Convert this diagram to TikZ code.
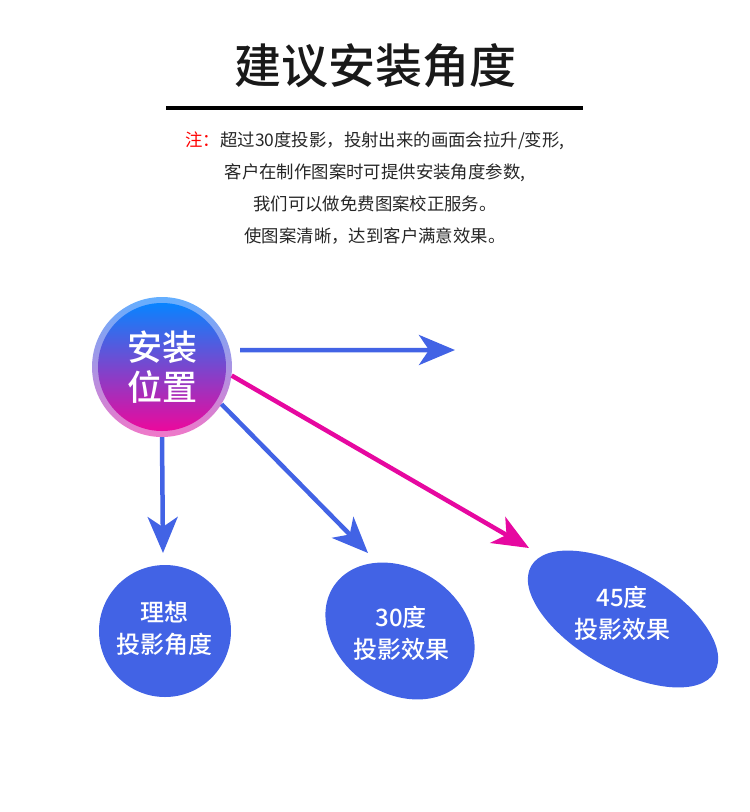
\documentclass[tikz,border=0pt]{standalone}
\usepackage{fontspec}
\usepackage{tikz}
\usetikzlibrary{arrows.meta,shapes.geometric}
\newfontfamily\cjk{Noto Sans CJK SC}
\newfontfamily\cjkmed{Noto Sans CJK SC Medium}

\begin{document}
\begin{tikzpicture}
		[x=1pt,y=-1pt,line cap=butt,
		%Styles
		title text/.style={font=\cjkmed\fontsize{47}{50}\selectfont,text=black!90},
		note text/.style={font=\cjk\fontsize{17.4}{32}\selectfont,text=black!85,align=center},
		blue link/.style={draw=linkblue,line width=4.5pt,-{Stealth[length=36pt,width=30pt,inset=10pt]}},
		pink link/.style={draw=linkpink,line width=4.5pt,-{Stealth[length=36pt,width=30pt,inset=10pt]}},
		result shape/.style={ellipse,inner sep=0pt,fill=linkblue},
		result text/.style={font=\cjkmed\fontsize{24}{32}\selectfont,text=white,align=center}
		]
		
		%Colors
		\definecolor{linkblue}{RGB}{66,99,229}
		\definecolor{linkpink}{RGB}{230,8,160}
		\definecolor{ringtop}{RGB}{100,175,255}
		\definecolor{ringbot}{RGB}{240,120,200}
		\definecolor{postop}{RGB}{8,132,255}
		\definecolor{posbot}{RGB}{236,8,156}
		
		\useasboundingbox (0,0) rectangle (750,812);
		
		%Heading
		\node[title text] (title) at (375,66) {建议安装角度};
		\draw[line width=4pt] (166,108) -- (583,108);
		\node[note text] (note) at (375,188)
			{\textcolor{red}{注：}超过30度投影，投射出来的画面会拉升/变形,\\
			客户在制作图案时可提供安装角度参数,\\
			我们可以做免费图案校正服务。\\
			使图案清晰，达到客户满意效果。};
		
		%Position circle
		\node[circle,minimum size=140pt,inner sep=0pt,top color=ringtop,bottom color=ringbot] (pos) at (162,367) {};
		\node[circle,minimum size=128pt,inner sep=0pt,top color=postop,bottom color=posbot,
			font=\cjkmed\fontsize{35}{40}\selectfont,text=white,align=center] (postext) at (pos) {安装\\位置};
		
		%Results
		\node[result shape,minimum width=132pt,minimum height=132pt] (ideal) at (165,631) {};
		\node[result text] at (164,629) {理想\\投影角度};
		\node[result shape,minimum width=160pt,minimum height=124pt,rotate=-35] (eff30) at (400,631) {};
		\node[result text] at (401,633) {30度\\投影效果};
		\node[result shape,minimum width=212pt,minimum height=100pt,rotate=-30] (eff45) at (623,619) {};
		\node[result text] at (622,613) {45度\\投影效果};
		
		%Arrows
		\coordinate (tipfront) at (455,350);
		\coordinate (tipideal) at (163,553);
		\coordinate (tip30) at (368,553);
		\coordinate (tip45) at (529,548);
		\draw[blue link,shorten <=10pt] (pos.14) -- (tipfront);
		\draw[blue link] (pos.south) -- (tipideal);
		\draw[blue link] (pos.-32) -- (tip30);
		\draw[pink link] (pos.-7) -- (tip45);
	\end{tikzpicture}
\end{document}
